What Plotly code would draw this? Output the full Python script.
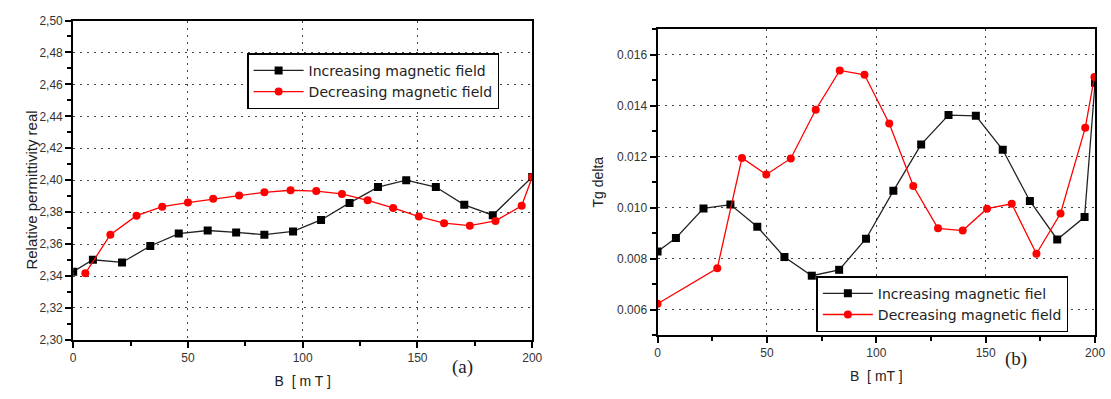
import plotly.graph_objects as go

# ---------------- data: panel (a) ----------------
b_inc_a = [0, 8.6, 21.3, 33.6, 46, 58.6, 71, 83.3, 95.8, 108, 120.4, 132.8, 145.1, 158, 170.4, 182.8, 200]
eps_inc = [2.3427, 2.3502, 2.3485, 2.3588, 2.3666, 2.3685, 2.3673, 2.3659, 2.3679, 2.3751, 2.3858,
           2.3957, 2.4000, 2.3957, 2.3846, 2.3781, 2.4020]
b_dec_a = [5.3, 16.2, 27.6, 38.8, 50, 61, 72.3, 83.3, 94.7, 105.9, 117.1, 128.3, 139.4, 150.6, 161.6,
           172.8, 184, 195.4, 200]
eps_dec = [2.3417, 2.3659, 2.3778, 2.3834, 2.3860, 2.3884, 2.3904, 2.3924, 2.3937, 2.3932, 2.3914,
           2.3874, 2.3826, 2.3772, 2.3731, 2.3715, 2.3745, 2.3840, 2.4020]

# ---------------- data: panel (b) ----------------
b_inc_b = [0, 8.4, 21, 33.3, 45.6, 58, 70.5, 83, 95.3, 107.8, 120.5, 133, 145.5, 157.8, 170.2, 182.7, 195.2, 200]
tg_inc = [0.00828, 0.00881, 0.00997, 0.01012, 0.00925, 0.00806, 0.00733, 0.00756, 0.00878, 0.01066,
          0.01248, 0.01363, 0.01360, 0.01227, 0.01026, 0.00875, 0.00963, 0.01490]
b_dec_b = [0, 27.3, 38.6, 49.7, 60.9, 72.3, 83.3, 94.6, 105.9, 116.9, 128.2, 139.5, 150.6, 161.9,
           173.2, 184.2, 195.5, 199.7]
tg_dec = [0.00623, 0.00762, 0.01195, 0.01130, 0.01193, 0.01384, 0.01538, 0.01521, 0.01330, 0.01085,
          0.00919, 0.00910, 0.00996, 0.01015, 0.00819, 0.00977, 0.01313, 0.01512]

# ---------------- tick labels ----------------
x_ticks = [0, 50, 100, 150, 200]
x_tick_labels = ["0", "50", "100", "150", "200"]
y_ticks_a = [2.30, 2.32, 2.34, 2.36, 2.38, 2.40, 2.42, 2.44, 2.46, 2.48, 2.50]
y_tick_labels_a = ["2,30", "2,32", "2,34", "2,36", "2,38", "2,40", "2,42", "2,44", "2,46", "2,48", "2,50"]
y_ticks_b = [0.006, 0.008, 0.010, 0.012, 0.014, 0.016]
y_tick_labels_b = ["0.006", "0.008", "0.010", "0.012", "0.014", "0.016"]

name_inc_a = "Increasing magnetic field"
name_dec_a = "Decreasing magnetic field"
name_inc_b = "Increasing magnetic fiel"
name_dec_b = "Decreasing magnetic field"

W, H = 1111, 399
FONT = "Liberation Sans, Arial, sans-serif"
LEG_FONT = "DejaVu Sans, Verdana, sans-serif"
BLACK_LINE = "#222222"
RED = "#ff0000"

fig = go.Figure()

fig.add_trace(go.Scatter(x=b_inc_a, y=eps_inc, mode="lines+markers", name=name_inc_a,
                         line=dict(color=BLACK_LINE, width=1.3),
                         marker=dict(symbol="square", size=8, color="black"),
                         xaxis="x", yaxis="y", legend="legend"))
fig.add_trace(go.Scatter(x=b_dec_a, y=eps_dec, mode="lines+markers", name=name_dec_a,
                         line=dict(color=RED, width=1.3),
                         marker=dict(symbol="circle", size=8, color=RED),
                         xaxis="x", yaxis="y", legend="legend"))
fig.add_trace(go.Scatter(x=b_inc_b, y=tg_inc, mode="lines+markers", name=name_inc_b,
                         line=dict(color=BLACK_LINE, width=1.3),
                         marker=dict(symbol="square", size=8, color="black"),
                         xaxis="x2", yaxis="y2", legend="legend2"))
fig.add_trace(go.Scatter(x=b_dec_b, y=tg_dec, mode="lines+markers", name=name_dec_b,
                         line=dict(color=RED, width=1.3),
                         marker=dict(symbol="circle", size=8, color=RED),
                         xaxis="x2", yaxis="y2", legend="legend2"))

grid = dict(showgrid=True, gridcolor="#444444", gridwidth=1, griddash="2px,5px")
axis_common = dict(showline=True, linecolor="black", linewidth=2, mirror=True,
                   ticks="outside", ticklen=6, tickwidth=1.5, tickcolor="black",
                   tickfont=dict(family=FONT, size=12, color="#333333"),
                   zeroline=False, **grid)

legend_common = dict(xanchor="left", yanchor="top",
                     bgcolor="white", bordercolor="black", borderwidth=1.5,
                     font=dict(family=LEG_FONT, size=14, color="#222"), tracegroupgap=0,
                     itemwidth=50)

fig.update_layout(
    width=W, height=H,
    margin=dict(l=0, r=0, t=0, b=0),
    paper_bgcolor="white", plot_bgcolor="white",
    font=dict(family=FONT, color="#222222"),
    xaxis=dict(domain=[71 / W, 535.5 / W], anchor="y", range=[0, 200],
               tickvals=x_ticks, ticktext=x_tick_labels,
               minor=dict(tickvals=[25, 75, 125, 175], ticks="outside", ticklen=4, showgrid=False),
               title=dict(text="B  [ m T ]", font=dict(family=FONT, size=14, color="#222"), standoff=12),
               **axis_common),
    yaxis=dict(domain=[1 - 345 / H, 1 - 14 / H], anchor="x", range=[2.30, 2.50],
               tickvals=y_ticks_a, ticktext=y_tick_labels_a,
               minor=dict(dtick=0.01, ticks="outside", ticklen=4, showgrid=False),
               **axis_common),
    xaxis2=dict(domain=[662.3 / W, 1105 / W], anchor="y2", range=[0, 200],
                tickvals=x_ticks, ticktext=x_tick_labels,
                minor=dict(tickvals=[25, 75, 125, 175], ticks="outside", ticklen=4, showgrid=False),
                title=dict(text="B  [ mT ]", font=dict(family=FONT, size=14, color="#222"), standoff=12),
                **axis_common),
    yaxis2=dict(domain=[1 - 340 / H, 1 - 23 / H], anchor="x2", range=[0.005, 0.017],
                tickvals=y_ticks_b, ticktext=y_tick_labels_b,
                minor=dict(dtick=0.001, tick0=0.005, ticks="outside", ticklen=4, showgrid=False),
                title=dict(text="Tg delta", font=dict(family=FONT, size=14, color="#222"), standoff=10),
                **axis_common),
    legend=dict(x=247 / W, y=1 - 48 / H, **legend_common),
    legend2=dict(x=823 / W, y=1 - 279 / H, **legend_common),
    showlegend=True,
    annotations=[
        dict(text="Relative permittivity real", x=18 / W, y=1 - 190 / H, xref="paper", yref="paper",
             showarrow=False, textangle=-90,
             font=dict(family=FONT, size=15, color="#222")),
        dict(text="(a)", x=465 / W, y=1 - 387 / H, xref="paper", yref="paper", showarrow=False,
             font=dict(family="Liberation Serif, Times New Roman, serif", size=19, color="#222")),
        dict(text="(b)", x=1038 / W, y=1 - 378 / H, xref="paper", yref="paper", showarrow=False,
             font=dict(family="Liberation Serif, Times New Roman, serif", size=19, color="#222")),
    ],
)

fig.write_html("out.html")
